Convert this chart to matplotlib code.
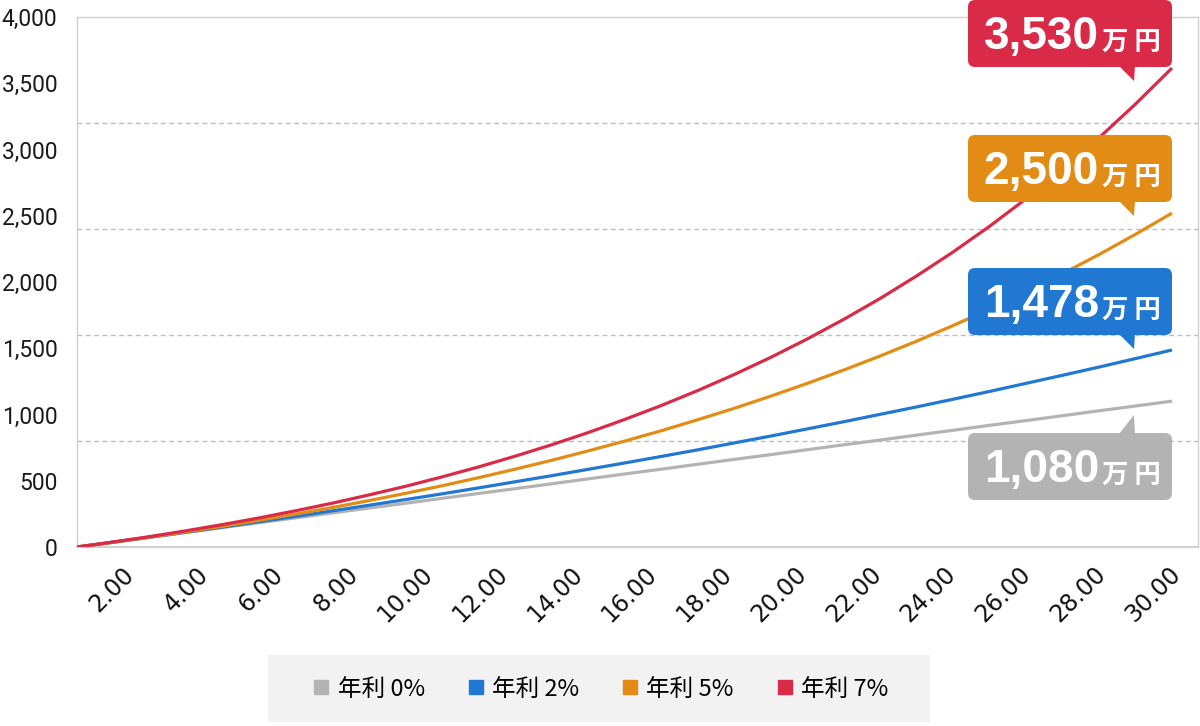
import matplotlib; matplotlib.use("Agg")
import matplotlib.pyplot as plt
from matplotlib.patches import FancyBboxPatch, Polygon, Rectangle
from matplotlib.lines import Line2D
import numpy as np

# --- data (万円, yearly) ---
years = list(range(31))
rate_0 = [0, 37, 73, 110, 147, 184, 220, 257, 294, 330, 367, 404, 440, 477, 514, 551,
          587, 624, 661, 697, 734, 771, 807, 844, 881, 918, 954, 991, 1028, 1064, 1101]
rate_2 = [0, 37, 74, 112, 151, 191, 231, 273, 315, 358, 401, 446, 492, 538, 586, 634,
          683, 733, 785, 837, 891, 945, 1001, 1057, 1115, 1174, 1235, 1296, 1358, 1422, 1487]
rate_5 = [0, 36, 75, 115, 157, 202, 249, 298, 350, 405, 462, 523, 587, 654, 725, 799,
          877, 960, 1046, 1138, 1234, 1335, 1441, 1553, 1671, 1795, 1926, 2063, 2207, 2360, 2520]
rate_7 = [0, 38, 79, 123, 170, 220, 274, 331, 393, 458, 529, 604, 685, 771, 863, 962,
          1067, 1180, 1301, 1430, 1569, 1717, 1875, 2045, 2226, 2420, 2628, 2850, 3088, 3343, 3615]

series_labels = ["年利 0%", "年利 2%", "年利 5%", "年利 7%"]
colors = ["#b3b3b3", "#2178d2", "#e38c15", "#d92b48"]
callout_values = ["1,080", "1,478", "2,500", "3,530"]
x_tick_labels = ["2.00", "4.00", "6.00", "8.00", "10.00", "12.00", "14.00", "16.00",
                 "18.00", "20.00", "22.00", "24.00", "26.00", "28.00", "30.00"]
y_ticks = [0, 500, 1000, 1500, 2000, 2500, 3000, 3500, 4000]
y_tick_labels = ["0", "500", "1,000", "1,500", "2,000", "2,500", "3,000", "3,500", "4,000"]
grid_levels = [800, 1600, 2400, 3200]

W, H = 1200, 726
fig = plt.figure(figsize=(W / 100, H / 100), dpi=100)
fig.patch.set_facecolor("white")

ax = fig.add_axes([77 / W, 1 - 547 / H, (1198 - 77) / W, (547 - 17) / H])
for s, c in zip([rate_0, rate_2, rate_5, rate_7], colors):
    ax.plot(years, s, color=c, lw=2.3, solid_capstyle="butt", zorder=3)

ax.set_xlim(0, 30 * 1121 / 1095)
ax.set_ylim(0, 4000)
for g in grid_levels:
    ax.axhline(g, color="#bdbdbd", lw=1, ls=(0, (3.5, 2.5)), zorder=1)

ax.set_yticks(y_ticks)
ax.set_yticklabels(y_tick_labels, family="Roboto", fontsize=16.5, color="#1a1a1a")
ax.set_xticks(np.linspace(1.23, 29.89, 15))
ax.set_xticklabels(x_tick_labels, rotation=45, ha="right", va="top", rotation_mode="anchor",
                   family="DejaVu Sans", fontsize=17, color="#111111")
ax.tick_params(axis="both", length=0)
ax.tick_params(axis="y", pad=14)
ax.tick_params(axis="x", pad=11)
for sp in ax.spines.values():
    sp.set_color("#d0d0d0"); sp.set_linewidth(1)
ax.spines["bottom"].set_linewidth(1.6)

# --- overlay in pixel coords for callouts and legend backdrop ---
ov = fig.add_axes([0, 0, 1, 1], zorder=3)
ov.set_xlim(0, W); ov.set_ylim(H, 0); ov.axis("off"); ov.patch.set_alpha(0)

# (top, bottom, pointer-down?) per series
boxes = [(433, 500, False), (268, 335, True), (135, 202, True), (0, 67, True)]
for (top, bot, down), c, v in zip(boxes, colors, callout_values):
    ov.add_patch(FancyBboxPatch((968, top), 204, bot - top,
                                boxstyle="round,pad=0,rounding_size=7", fc=c, ec="none"))
    if down:
        tri = [(1119, bot - 1), (1135, bot - 1), (1134, bot + 14)]
    else:
        tri = [(1119, top + 1), (1135, top + 1), (1134, top - 18)]
    ov.add_patch(Polygon(tri, closed=True, fc=c, ec="none"))
    ov.text(1099, bot - 18, v, ha="right", va="baseline", color="white", fontsize=33,
            fontweight="bold", family="Liberation Sans")
    ov.text(1102, bot - 17, "万 円", ha="left", va="baseline", color="white", fontsize=19,
            fontweight="bold", family=["Noto Sans CJK JP", "DejaVu Sans"])

ov.add_patch(Rectangle((268, 655), 662, 67, fc="#f2f2f2", ec="none"))

handles = [Line2D([], [], ls="none", marker="s", ms=10, mfc=c, mec=c) for c in colors]
fig.legend(handles, series_labels, loc="center", bbox_to_anchor=(600 / W, 1 - 689 / H),
           ncol=4, frameon=False, handlelength=0.8, handletextpad=0.3, columnspacing=1.75,
           prop={"family": ["Noto Sans CJK JP", "DejaVu Sans"], "size": 17})

fig.savefig("out.png", dpi=100, facecolor="white")
